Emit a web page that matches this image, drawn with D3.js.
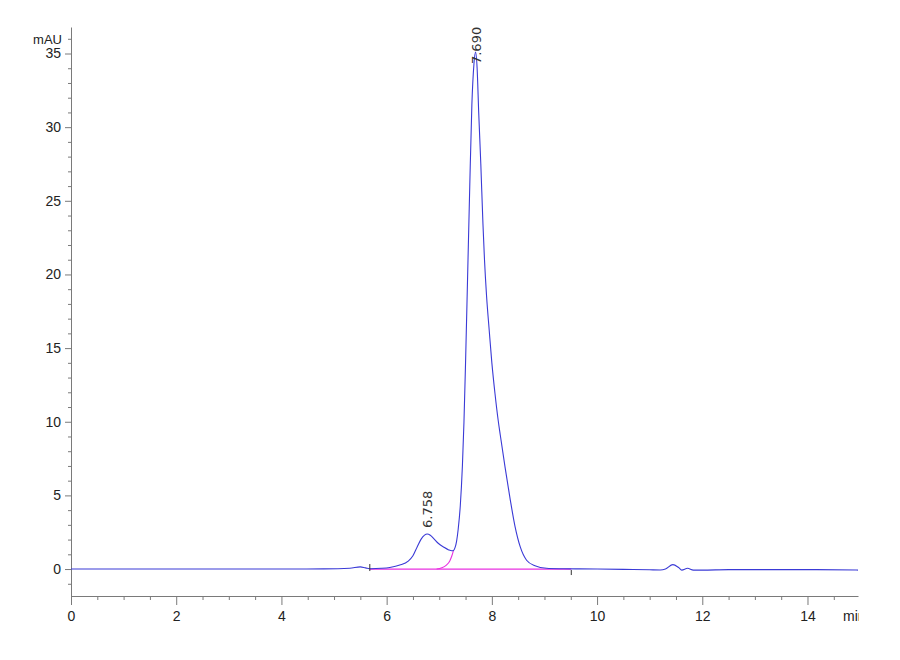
<!DOCTYPE html>
<html lang="en">
  <head>
    <meta charset="utf-8">
    <title>Chromatogram</title>
    <script src="https://d3js.org/d3.v7.min.js"></script>
    <style>
      body { margin: 0; background: #fff; }
      .axis path, .axis line { stroke: #7a7a7a; }
      .axis text { font: 14px "Liberation Sans Narrow", "Liberation Sans", Arial, sans-serif; fill: #222; }
      .unit { font: 13px "Liberation Sans Narrow", "Liberation Sans", Arial, sans-serif; fill: #222; }
      .peaklabel { font: 13px "DejaVu Sans", sans-serif; fill: #333; }
    </style>
  </head>
  <body>
    <div id="chart"></div>
    <script>
      "use strict"
      // retention time (min) and signal (mAU)
      var tempo = [0, 1, 2, 3, 4, 4.8, 5.3, 5.5, 5.6, 5.7, 5.9, 6.06, 6.25, 6.41, 6.5, 6.58, 6.65, 6.72, 6.77, 6.83,
                   6.9, 6.98, 7.08, 7.18, 7.24, 7.27, 7.30, 7.33, 7.36, 7.40, 7.44, 7.47, 7.50, 7.54, 7.58, 7.62,
                   7.66, 7.69, 7.72, 7.75, 7.79, 7.83, 7.86, 7.90, 7.95, 8.0, 8.06, 8.12, 8.16, 8.25, 8.35, 8.44, 8.54,
                   8.66, 8.82, 9.04, 9.3, 9.6, 10, 10.5, 11.0, 11.2, 11.3, 11.44, 11.55, 11.61,
                   11.72, 11.83, 12.0, 12.5, 13, 14, 14.96];
      var sinal = [0, 0, 0, 0, 0, 0.01, 0.05, 0.15, 0.08, 0.02, 0.05, 0.11, 0.27, 0.54, 0.9, 1.5, 2.0, 2.3, 2.38, 2.3,
                   2.05, 1.75, 1.5, 1.3, 1.24, 1.26, 1.45, 1.9, 2.7, 4.3, 7, 10, 14, 20, 26, 31.5,
                   34.3, 35.1, 34, 31, 27.5, 23.5, 21, 18.5, 16.2, 14.0, 11.9, 10.1, 9.1, 6.94, 4.7, 2.9, 1.5,
                   0.6, 0.22, 0.05, 0.02, 0.01, 0, -0.02, -0.05, -0.06, 0.0, 0.3, 0.1, -0.07,
                   0.05, -0.07, -0.07, -0.04, -0.04, -0.04, -0.07];

      // integration baseline and the skim under the first peak
      var linhaBaseT = [5.68, 9.51];
      var linhaBaseV = [0, 0];
      var skimT = [6.95, 7.05, 7.13, 7.2, 7.24, 7.27];
      var skimV = [0, 0.08, 0.25, 0.55, 0.9, 1.26];

      // integration event marks
      var marcasT = [5.68, 9.51];

      // peaks
      var picosT = [6.758, 7.690];
      var picosV = [2.38, 35.1];
      var picosRotulo = ["6.758", "7.690"];

      // axes
      var xTicks = [0, 2, 4, 6, 8, 10, 12, 14];
      var yTicks = [0, 5, 10, 15, 20, 25, 30, 35];

      var larguraSVG = 900, alturaSVG = 660;
      var margin = {top: 27, right: 42, bottom: 64, left: 71},
          larguraVis = larguraSVG - margin.left - margin.right,
          alturaVis = alturaSVG - margin.top - margin.bottom;

      var svg = d3.select('#chart')
        .append('svg')
          .attr('width', larguraSVG)
          .attr('height', alturaSVG);

      // the "min" unit is cut at the right edge of the plot, as in the original
      svg.append('clipPath').attr('id', 'corte')
        .append('rect')
          .attr('x', 0).attr('y', 0)
          .attr('width', margin.left + larguraVis + 1)
          .attr('height', alturaSVG);

      var grafico = svg.append('g')
          .attr('transform', 'translate(' + margin.left + ',' + margin.top + ')');

      var x = d3.scaleLinear().domain([0, 14.96]).range([0, larguraVis]);
      var y = d3.scaleLinear().domain([-1.83, 36.8]).range([alturaVis, 0]);

      var xMinor = d3.range(0, 15, 0.5).filter(d => d % 2 !== 0);
      var yMinor = d3.range(-1, 37, 1).filter(d => d % 5 !== 0);

      // minor ticks first, major on top
      grafico.append('g')
          .attr('class', 'axis')
          .attr('transform', 'translate(0,' + alturaVis + ')')
          .call(d3.axisBottom(x).tickValues(xMinor).tickSize(4).tickFormat(''))
          .select('.domain').remove();
      grafico.append('g')
          .attr('class', 'axis')
          .attr('transform', 'translate(0,' + alturaVis + ')')
          .call(d3.axisBottom(x).tickValues(xTicks).tickSizeInner(9).tickSizeOuter(0).tickPadding(6).tickFormat(d3.format('d')));

      grafico.append('g')
          .attr('class', 'axis')
          .call(d3.axisLeft(y).tickValues(yMinor).tickSize(3).tickFormat(''))
          .select('.domain').remove();
      grafico.append('g')
          .attr('class', 'axis')
          .call(d3.axisLeft(y).tickValues(yTicks).tickSizeInner(6).tickSizeOuter(0).tickPadding(4).tickFormat(d3.format('d')));

      grafico.append('text')
          .attr('class', 'unit')
          .attr('x', -9)
          .attr('y', y(36) + 5)
          .attr('text-anchor', 'end')
          .text('mAU');

      svg.append('text')
          .attr('class', 'unit')
          .attr('clip-path', 'url(#corte)')
          .attr('x', margin.left + larguraVis - 15)
          .attr('y', margin.top + alturaVis + 25)
          .style('font-size', '14px')
          .text('min');

      // baseline (magenta)
      var linha = d3.line().x(d => x(d[0])).y(d => y(d[1]));
      grafico.append('path')
          .datum(d3.zip(linhaBaseT, linhaBaseV))
          .attr('fill', 'none')
          .attr('stroke', '#e830e0')
          .attr('stroke-width', 1.3)
          .attr('d', linha);
      grafico.append('path')
          .datum(d3.zip(skimT, skimV))
          .attr('fill', 'none')
          .attr('stroke', '#e830e0')
          .attr('stroke-width', 1.1)
          .attr('d', linha.curve(d3.curveMonotoneX));

      // signal trace
      grafico.append('path')
          .datum(d3.zip(tempo, sinal))
          .attr('fill', 'none')
          .attr('stroke', '#3a3ad6')
          .attr('stroke-width', 1.1)
          .attr('d', d3.line().x(d => x(d[0])).y(d => y(d[1])).curve(d3.curveMonotoneX));

      // event marks
      grafico.selectAll('.marca')
          .data(marcasT)
          .enter().append('line')
            .attr('class', 'marca')
            .attr('x1', d => x(d)).attr('x2', d => x(d))
            .attr('y1', (d, i) => i === 0 ? y(0) - 5 : y(0) + 1)
            .attr('y2', (d, i) => i === 0 ? y(0) + 2 : y(0) + 6)
            .attr('stroke', '#333')
            .attr('stroke-width', 1);

      // peak labels, rotated
      grafico.selectAll('.peaklabel')
          .data(d3.zip(picosT, picosV, picosRotulo))
          .enter().append('text')
            .attr('class', 'peaklabel')
            .attr('transform', (d, i) => 'translate(' + (x(d[0]) + 5) + ',' + (y(d[1]) + (i === 1 ? 12 : -6)) + ') rotate(-90)')
            .text(d => d[2]);
    </script>
  </body>
</html>
